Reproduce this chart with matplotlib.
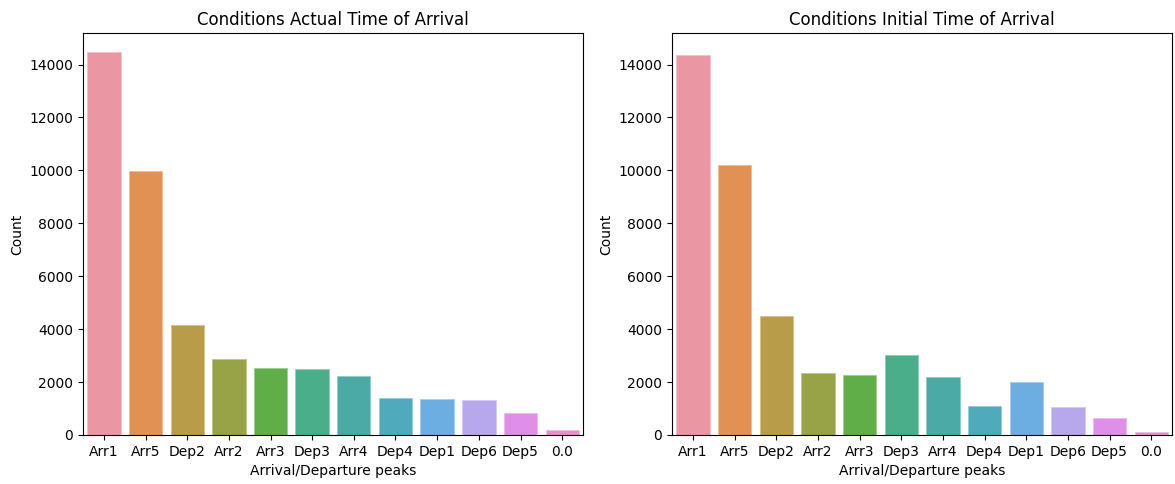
import matplotlib
matplotlib.use("Agg")
import matplotlib.pyplot as plt
import seaborn as sns
import numpy as np

categories = ["Arr1", "Arr5", "Dep2", "Arr2", "Arr3", "Dep3", "Arr4", "Dep4", "Dep1", "Dep6", "Dep5", "0.0"]
actual_counts = [14470, 9990, 4160, 2875, 2548, 2510, 2245, 1380, 1345, 1310, 820, 177]
initial_counts = [14353, 10215, 4502, 2357, 2282, 3038, 2206, 1086, 2017, 1048, 632, 102]
titles = ["Conditions Actual Time of Arrival", "Conditions Initial Time of Arrival"]
xlabel = "Arrival/Departure peaks"
ylabel = "Count"

colors = [sns.desaturate(c, 0.75) for c in sns.husl_palette(len(categories), l=.7)]

fig = plt.figure(figsize=(11.75, 4.84), dpi=100)
W, H = 1175, 484
ax1 = fig.add_axes([83 / W, (H - 435) / H, 500 / W, 402 / H])
ax2 = fig.add_axes([672 / W, (H - 435) / H, 500 / W, 402 / H], sharey=ax1)

for ax, vals, title in zip([ax1, ax2], [actual_counts, initial_counts], titles):
    x = np.arange(len(categories))
    edge = [tuple(0.6 * np.array(c) + 0.4) for c in colors]
    ax.bar(x, vals, width=0.8, color=colors, edgecolor=edge, linewidth=0.7)
    ax.set_xticks(x)
    ax.set_xticklabels(categories)
    ax.set_xlim(-0.5, len(categories) - 0.5)
    ax.set_title(title, fontsize=12)
    ax.set_xlabel(xlabel)
    ax.set_ylabel(ylabel)
    ax.tick_params(axis="y", labelleft=True)

fig.savefig("out.png", dpi=100)
